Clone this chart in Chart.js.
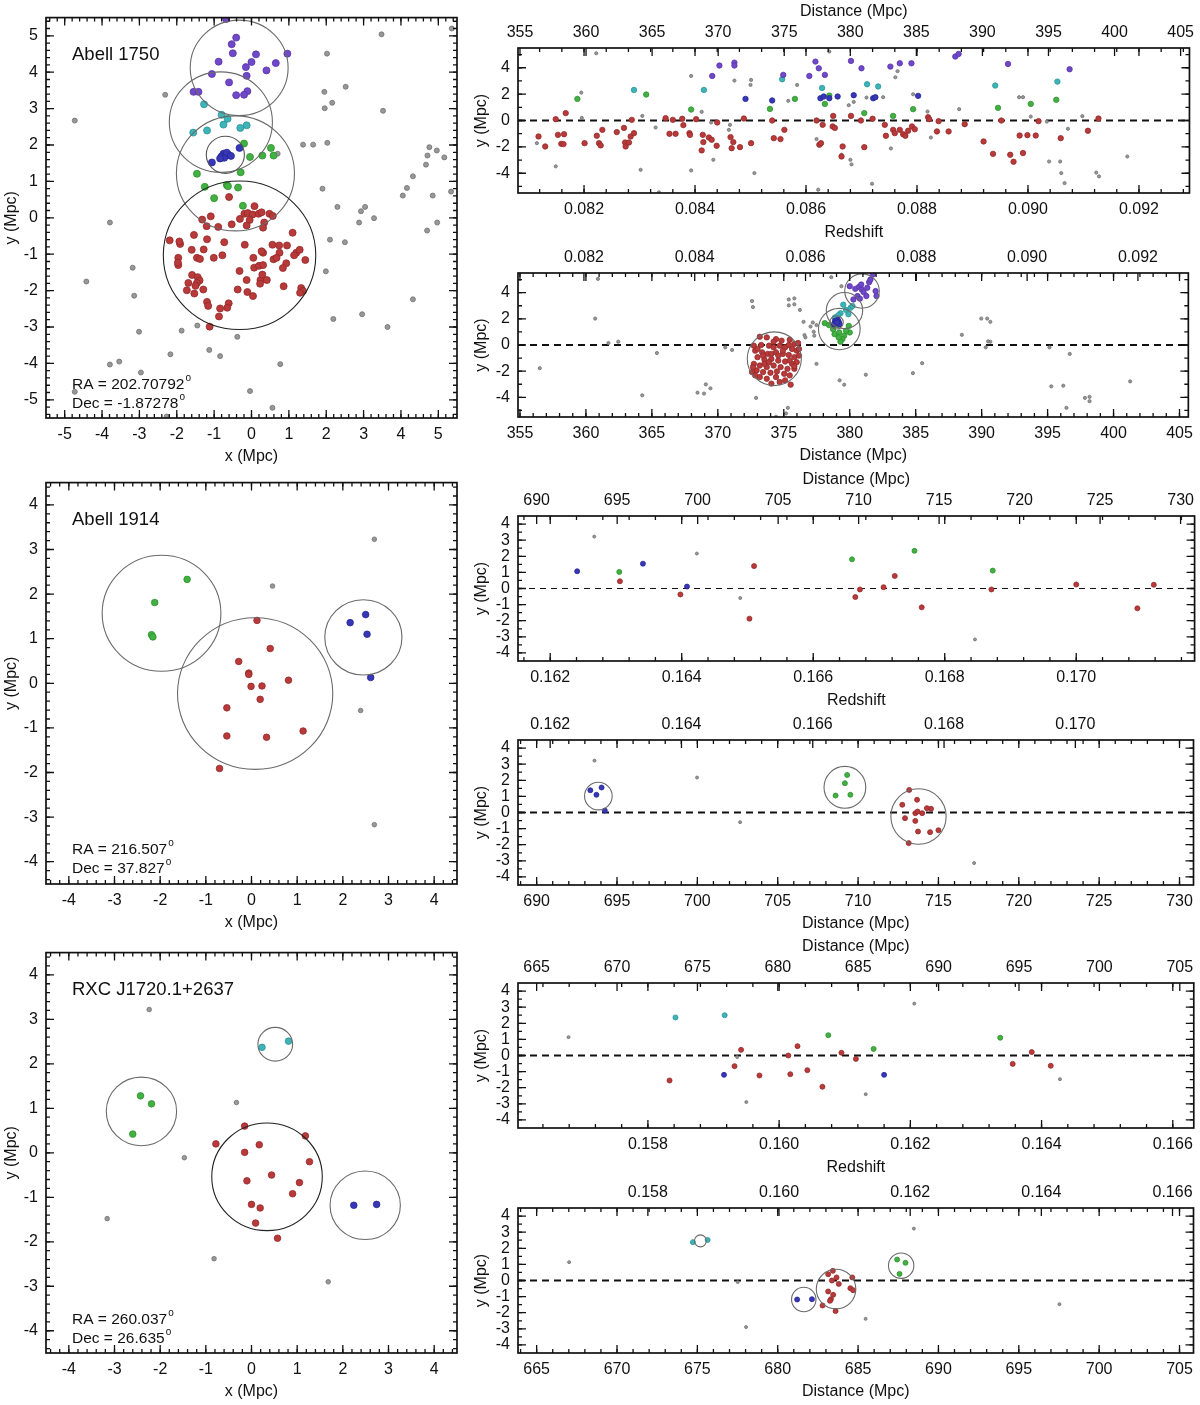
<!DOCTYPE html>
<html>
<head>
<meta charset="utf-8">
<script src="https://cdn.jsdelivr.net/npm/chart.js@4.4.0/dist/chart.umd.min.js"></script>
<style>
  html, body { margin: 0; padding: 0; background: #fff; }
  #page { position: relative; width: 1200px; height: 1405px; overflow: hidden; }
  canvas { position: absolute; }
</style>
</head>
<body>
<div id="page"></div>
<script>
// --- DATA: Abell 1750 ---
// sky plane (x, y) in Mpc
const a1750Purple = [[-0.68,5.46],[-0.41,4.95],[-0.53,4.77],[-0.50,4.52],[-0.88,4.29],[0.12,4.49],[0.96,4.51],[0.00,4.28],[-0.15,4.14],[0.65,4.25],[0.40,4.05],[-1.06,3.95],[-0.13,3.90],[-0.60,3.72],[-0.11,3.48],[-0.20,3.38],[-0.41,3.37],[-1.55,3.46],[-1.42,3.46]];
const a1750Cyan = [[-1.27,3.12],[-0.80,2.83],[-0.64,2.72],[-0.75,2.56],[-0.13,2.54],[-0.30,2.47],[-1.19,2.40],[-1.56,2.34]];
const a1750Blue = [[-0.75,1.76],[-0.69,1.71],[-0.80,1.69],[-0.63,1.74],[-0.73,1.65],[-0.66,1.79],[-0.84,1.63],[-0.55,1.70],[-0.32,1.92],[-1.06,1.52]];
const a1750Green = [[-0.20,2.04],[0.52,1.92],[0.29,1.71],[0.59,1.71],[-0.04,1.67],[-0.29,1.25],[-1.46,1.21],[-1.25,0.85],[-0.66,0.90],[-0.63,0.87],[-0.36,0.83],[-1.00,0.54],[-0.23,0.33]];
const a1750Red = [[-0.60,0.57],[0.08,0.32],[-1.09,0.04],[-1.32,-0.05],[-0.53,-0.18],[-0.89,-0.25],[-0.31,-0.03],[-0.19,0.11],[-0.10,0.13],[0.03,0.09],[-0.05,-0.06],[-0.13,-0.21],[0.19,0.11],[0.27,0.15],[0.48,0.11],[0.57,0.05],[-1.20,-0.23],[0.34,-0.13],[0.31,-0.27],[1.10,-0.41],[-1.54,-0.47],[-1.91,-0.72],[-2.19,-0.62],[-1.93,-0.65],[-1.60,-0.88],[-1.19,-0.59],[-0.73,-0.67],[-0.18,-0.74],[-1.28,-0.87],[0.56,-0.74],[0.74,-0.76],[0.95,-0.76],[0.75,-0.96],[1.20,-0.96],[1.29,-0.88],[0.31,-0.96],[0.27,-0.92],[-1.46,-1.10],[-1.38,-1.13],[-1.96,-1.10],[-1.96,-1.30],[-1.97,-1.23],[-0.78,-1.03],[-1.01,-1.10],[0.05,-1.10],[0.59,-1.14],[0.67,-1.10],[0.93,-1.25],[1.44,-1.16],[1.14,-1.03],[0.07,-1.37],[0.20,-1.32],[0.31,-1.30],[-0.32,-1.46],[0.84,-1.38],[-1.59,-1.57],[-1.44,-1.63],[-1.39,-1.72],[-1.46,-1.79],[-1.69,-1.79],[-1.50,-1.87],[-0.13,-1.71],[0.24,-1.71],[0.41,-1.71],[0.29,-1.56],[0.23,-1.81],[0.86,-1.88],[-1.29,-1.97],[-1.73,-1.99],[-1.53,-2.08],[-0.37,-1.97],[-0.11,-2.04],[0.04,-2.15],[1.33,-1.93],[1.38,-2.01],[1.30,-2.06],[-1.19,-2.31],[-1.16,-2.42],[-0.61,-2.35],[-0.84,-2.49],[-0.65,-2.47],[-0.87,-2.71],[-1.12,-2.99]];
const a1750Gray = [[2.02,4.51],[3.48,5.04],[5.36,5.20],[-2.31,3.38],[-4.73,2.67],[1.95,3.46],[2.16,3.16],[2.52,3.60],[1.96,3.01],[3.52,2.94],[1.38,2.01],[1.65,2.01],[2.03,2.06],[0.70,1.76],[4.76,1.94],[4.71,1.71],[4.96,1.85],[5.16,1.66],[4.67,1.46],[4.32,1.14],[4.16,0.82],[4.05,0.61],[4.85,0.61],[5.34,0.72],[1.90,0.80],[2.30,0.30],[3.04,0.30],[2.93,0.18],[2.88,-0.13],[3.28,-0.01],[4.97,-0.13],[4.70,-0.35],[2.10,-0.60],[2.50,-0.67],[-3.79,-0.13],[1.99,-1.47],[-3.18,-1.37],[-4.42,-1.75],[-3.14,-2.14],[4.32,-2.24],[2.19,-2.78],[2.96,-2.65],[3.64,-3.00],[-1.45,-2.96],[-1.87,-3.10],[-3.01,-3.13],[-0.38,-3.27],[-2.17,-3.75],[-1.13,-3.63],[-0.84,-3.80],[-3.79,-4.03],[-3.54,-3.95],[0.77,-4.02],[-2.96,-4.25],[-4.73,-4.78],[-0.04,-4.76],[0.56,-5.22],[-2.27,-5.46]];
// substructure circles [centre x, centre y, radius] in Mpc
const a1750CirclesXY = [[-0.33,4.12,1.31],[-0.82,2.63,1.38],[-0.43,1.22,1.58],[-0.70,1.73,0.51],[-0.32,-1.03,2.04]];

// redshift vs y
const a1750PurpleZ = [[0.08431,3.38],[0.08444,4.17],[0.08471,4.39],[0.08471,4.17],[0.08559,3.46],[0.08606,3.38],[0.08617,4.47],[0.08623,3.96],[0.08634,3.46],[0.08681,4.52],[0.08700,3.96],[0.08752,4.09],[0.08769,4.34],[0.08790,4.34],[0.08869,4.85],[0.08875,5.05],[0.08964,4.29],[0.09075,3.89]];
const a1750CyanZ = [[0.08290,2.32],[0.08416,2.32],[0.08557,3.13],[0.08629,2.47],[0.08710,2.75],[0.08730,2.58],[0.08941,2.65],[0.09053,2.95]];
const a1750BlueZ = [[0.08491,1.64],[0.08539,1.52],[0.08626,1.69],[0.08632,1.82],[0.08642,1.69],[0.08657,1.82],[0.08686,1.92],[0.08721,1.69],[0.08725,1.77],[0.08802,1.87]];
const a1750GreenZ = [[0.08188,1.64],[0.08312,1.97],[0.08393,0.83],[0.08535,0.88],[0.08580,1.64],[0.08634,1.26],[0.08642,1.89],[0.08705,0.56],[0.08757,0.35],[0.08793,0.86],[0.08946,0.96],[0.09005,1.26],[0.09051,1.57]];
const a1750RedZ = [[0.08118,-1.21],[0.08130,-1.97],[0.08149,0.10],[0.08153,-1.09],[0.08159,-1.77],[0.08163,-1.79],[0.08164,-1.04],[0.08167,0.56],[0.08201,-1.72],[0.08223,-1.16],[0.08227,-1.72],[0.08230,-1.89],[0.08233,-0.71],[0.08259,-0.88],[0.08272,-0.56],[0.08274,-1.67],[0.08275,-1.97],[0.08281,-1.67],[0.08284,-1.21],[0.08286,0.05],[0.08290,-0.96],[0.08347,0.18],[0.08354,-1.01],[0.08360,0.05],[0.08365,-1.01],[0.08377,0.13],[0.08379,-0.35],[0.08390,-0.96],[0.08391,-1.09],[0.08402,0.10],[0.08412,-2.27],[0.08414,-1.09],[0.08415,-1.64],[0.08425,-1.29],[0.08430,-1.46],[0.08439,-1.92],[0.08440,-0.15],[0.08464,-1.26],[0.08466,-2.10],[0.08469,-1.64],[0.08481,-2.02],[0.08488,0.15],[0.08501,-1.72],[0.08539,0.00],[0.08542,-1.34],[0.08554,-1.41],[0.08561,-0.71],[0.08619,0.00],[0.08624,-1.84],[0.08627,-1.72],[0.08630,-0.33],[0.08648,-0.45],[0.08649,0.35],[0.08652,-0.56],[0.08664,-2.73],[0.08666,-1.97],[0.08681,0.35],[0.08699,0.00],[0.08705,-2.02],[0.08720,0.13],[0.08742,-0.33],[0.08744,-1.16],[0.08757,-0.71],[0.08760,-0.96],[0.08769,-0.71],[0.08775,-1.04],[0.08779,-1.16],[0.08784,-0.78],[0.08791,-0.45],[0.08796,-0.66],[0.08820,0.25],[0.08822,0.10],[0.08836,-0.83],[0.08839,-0.05],[0.08857,-0.83],[0.08886,-0.28],[0.08920,-1.59],[0.08937,-2.53],[0.08952,0.00],[0.08968,-2.60],[0.08974,-3.13],[0.08985,-1.14],[0.08991,-2.47],[0.08999,-1.11],[0.09014,-1.14],[0.09019,-0.05],[0.09059,-1.34],[0.09108,-0.78],[0.09127,0.15]];
const a1750GrayZ = [[0.08115,-1.72],[0.08149,-3.48],[0.08195,2.12],[0.08196,0.20],[0.08222,5.10],[0.08305,0.35],[0.08302,-3.74],[0.08329,-0.53],[0.08335,-5.45],[0.08393,3.38],[0.08393,-3.79],[0.08412,0.66],[0.08429,-0.15],[0.08433,-2.98],[0.08461,-0.71],[0.08463,-0.33],[0.08471,3.03],[0.08500,2.70],[0.08501,3.08],[0.08507,-3.99],[0.08568,1.49],[0.08584,2.70],[0.08619,-1.41],[0.08622,-5.25],[0.08642,5.23],[0.08677,1.16],[0.08664,-2.60],[0.08680,-2.98],[0.08682,-3.33],[0.08686,1.41],[0.08709,1.74],[0.08719,-4.80],[0.08739,1.77],[0.08753,-2.12],[0.08761,3.28],[0.08765,3.74],[0.08793,1.99],[0.08819,0.68],[0.08825,-1.29],[0.08876,0.86],[0.08984,1.77],[0.08991,1.77],[0.09005,0.30],[0.09034,-0.08],[0.09038,-3.11],[0.09058,-3.11],[0.09060,-3.99],[0.09066,-4.75],[0.09072,-0.63],[0.09098,0.33],[0.09123,-3.95],[0.09128,-4.24],[0.09179,-2.73]];

// distance vs y
const a1750PurpleD = [[380.00,4.49],[380.42,4.29],[380.70,4.44],[380.91,4.24],[381.05,4.04],[381.26,3.74],[381.47,4.80],[381.57,5.00],[381.75,5.38],[382.03,3.74],[381.96,4.12],[380.59,3.74],[380.77,3.54],[380.28,3.48],[380.87,4.62],[381.33,4.37]];
const a1750CyanD = [[378.88,2.10],[379.30,2.42],[379.51,3.08],[379.72,2.68],[380.07,2.85],[380.21,2.98],[379.90,2.35],[379.13,2.27]];
const a1750BlueD = [[378.88,1.84],[379.02,1.67],[379.16,1.77],[379.09,1.92],[378.81,1.59],[379.23,1.59],[378.99,1.82],[379.05,1.72]];
const a1750GreenD = [[378.11,1.67],[378.85,0.83],[379.20,0.96],[379.58,0.71],[379.93,1.46],[380.00,0.96],[379.44,0.45],[379.30,0.25],[378.74,1.21],[378.43,1.52],[379.72,1.09],[378.95,1.52],[379.16,0.58]];
const a1750RedD = [[373.18,0.63],[373.71,0.58],[374.41,0.45],[374.83,0.33],[375.45,0.40],[375.80,0.08],[376.08,0.15],[372.73,-0.05],[373.29,0.00],[373.88,-0.05],[374.23,-0.18],[374.69,-0.05],[375.10,-0.18],[375.63,-0.30],[375.98,-0.43],[372.83,-0.43],[373.36,-0.56],[373.78,-0.68],[374.41,-0.56],[374.93,-0.68],[375.38,-0.76],[375.80,-0.93],[376.15,-0.81],[373.01,-0.93],[373.53,-1.11],[374.06,-1.06],[374.58,-1.19],[375.10,-1.26],[375.63,-1.44],[372.73,-1.44],[373.18,-1.57],[373.71,-1.69],[374.23,-1.57],[374.76,-1.69],[375.28,-1.82],[375.80,-1.82],[372.94,-1.94],[373.43,-2.07],[373.99,-2.12],[374.48,-2.02],[375.03,-2.20],[375.45,-2.32],[372.59,-2.07],[373.18,-2.45],[373.71,-2.58],[374.41,-2.45],[375.10,-2.70],[375.52,-3.03],[374.69,-2.83],[374.06,-2.95],[373.53,-1.44],[373.01,-0.30],[375.45,-1.19],[375.98,-1.31],[374.06,-0.68],[374.58,-0.81],[373.88,-1.31],[373.43,-0.81],[372.66,-1.69],[374.93,-0.43],[375.38,0.00],[374.23,0.25],[375.80,-1.62],[372.83,-2.32],[376.15,-0.30]];
const a1750GrayD = [[356.50,-1.77],[360.70,2.02],[360.91,5.05],[361.71,0.15],[362.45,0.25],[365.38,-0.61],[364.27,-3.84],[368.46,-3.64],[368.95,-3.71],[369.09,-3.01],[369.44,-3.31],[370.56,-0.18],[371.08,-0.38],[372.59,3.36],[372.66,2.90],[372.90,-4.04],[374.41,-5.48],[375.17,-5.23],[375.31,-4.80],[375.38,3.48],[375.38,3.03],[375.80,3.56],[375.80,3.11],[376.22,2.68],[376.50,1.77],[376.57,0.76],[376.64,0.58],[377.03,1.41],[377.20,1.72],[377.27,1.01],[377.31,0.71],[377.48,1.52],[377.48,-1.44],[378.60,5.18],[379.23,-2.70],[379.37,4.49],[379.58,-3.03],[381.22,-2.27],[384.79,-2.15],[385.49,-1.39],[388.50,0.78],[389.97,2.02],[390.42,2.02],[390.66,1.77],[390.31,-0.18],[390.49,0.28],[390.66,0.25],[395.14,-0.18],[395.28,-3.16],[396.19,-3.11],[396.43,-4.80],[396.68,-0.68],[397.83,-4.04],[398.18,-3.96],[398.18,-4.29],[401.26,-2.78]];
const a1750CirclesD = [[380.93,4.12,1.31],[379.60,2.63,1.38],[379.21,1.22,1.58],[379.00,1.73,0.51],[374.28,-1.05,2.05]];

// --- DATA: Abell 1914 ---
const a1914Green = [[-1.41,2.33],[-2.12,1.81],[-2.19,1.09],[-2.16,1.04]];
const a1914Red = [[0.12,1.41],[0.41,0.78],[-0.28,0.49],[-0.06,0.23],[-0.06,0.20],[-0.01,-0.07],[0.23,-0.06],[0.81,0.07],[0.19,-0.36],[-0.54,-0.55],[-0.54,-1.18],[0.33,-1.21],[1.13,-1.07],[-0.70,-1.91]];
const a1914Blue = [[2.16,1.36],[2.50,1.54],[2.53,1.10],[2.61,0.13]];
const a1914Gray = [[0.46,2.18],[2.69,3.23],[2.39,-0.61],[2.69,-3.17]];
const a1914CirclesXY = [[-1.97,1.57,1.30],[0.08,-0.23,1.70],[2.45,1.03,0.845]];

const a1914BlueZ = [[0.16241,1.07],[0.16341,1.54],[0.16408,0.12]];
const a1914GreenZ = [[0.16305,1.03],[0.16659,1.81],[0.16754,2.34],[0.16873,1.11]];
const a1914RedZ = [[0.16306,0.45],[0.16398,-0.37],[0.16510,1.39],[0.16503,-1.87],[0.16664,-0.53],[0.16671,-0.06],[0.16707,0.08],[0.16724,0.78],[0.16765,-1.17],[0.16871,-0.06],[0.17000,0.25],[0.17093,-1.23],[0.17118,0.23]];
const a1914GrayZ = [[0.16267,3.22],[0.16423,2.17],[0.16489,-0.59],[0.16846,-3.16]];

const a1914BlueD = [[693.34,1.38],[693.72,1.10],[694.04,1.55],[694.24,0.12]];
const a1914GreenD = [[709.32,2.33],[709.18,1.82],[708.60,1.05],[709.52,1.10]];
const a1914RedD = [[713.18,1.40],[712.75,0.48],[713.67,0.79],[713.56,-0.04],[713.70,0.06],[713.99,-0.04],[714.28,0.27],[714.54,0.23],[712.92,-0.35],[713.56,-0.52],[713.73,-1.18],[714.48,-1.22],[715.00,-1.10],[713.15,-1.90]];
const a1914GrayD = [[693.60,3.22],[699.98,2.17],[702.66,-0.60],[717.22,-3.14]];
const a1914CirclesD = [[693.84,1.02,0.86],[709.18,1.56,1.30],[713.76,-0.25,1.72]];

// --- DATA: RXC J1720.1+2637 ---
const rxcCyan = [[0.23,2.37],[0.81,2.51]];
const rxcGreen = [[-2.43,1.28],[-2.19,1.10],[-2.60,0.42]];
const rxcRed = [[-0.15,0.60],[1.18,0.38],[-0.78,0.20],[0.17,0.18],[-0.15,0.01],[1.27,-0.20],[0.44,-0.50],[-0.10,-0.63],[1.05,-0.67],[0.90,-0.92],[0.00,-1.16],[0.19,-1.24],[0.09,-1.58],[0.57,-1.92]];
const rxcBlue = [[2.24,-1.18],[2.74,-1.16]];
const rxcGray = [[-2.24,3.22],[-0.33,1.13],[-1.47,-0.11],[-3.16,-1.48],[-0.82,-2.38],[1.68,-2.90]];
const rxcCirclesXY = [[0.52,2.44,0.38],[-2.41,0.93,0.77],[0.34,-0.54,1.21],[2.49,-1.18,0.77]];

const rxcCyanZ = [[0.15842,2.36],[0.15917,2.50]];
const rxcGreenZ = [[0.16075,1.26],[0.16144,0.41],[0.16337,1.10]];
const rxcBlueZ = [[0.15916,-1.20],[0.16160,-1.20]];
const rxcRedZ = [[0.15833,-1.55],[0.15942,0.35],[0.15932,-0.66],[0.15970,-1.24],[0.16014,0.00],[0.16028,0.58],[0.16017,-1.16],[0.16043,-0.91],[0.16066,-1.94],[0.16095,0.17],[0.16117,-0.21],[0.16356,-0.52],[0.16385,0.21],[0.16414,-0.64]];
const rxcGrayZ = [[0.15679,1.14],[0.15936,-0.10],[0.15950,-2.89],[0.16132,-2.40],[0.16206,3.22],[0.16428,-1.47]];

const rxcCyanD = [[674.72,2.38],[675.64,2.52]];
const rxcGreenD = [[687.43,1.30],[687.95,1.10],[687.58,0.41]];
const rxcBlueD = [[681.21,-1.18],[682.13,-1.16]];
const rxcRedD = [[683.43,0.60],[683.14,0.39],[683.37,0.00],[683.66,0.19],[683.80,-0.21],[684.64,0.19],[684.52,-0.48],[684.69,-0.60],[683.14,-0.68],[683.45,-0.89],[683.31,-1.16],[683.25,-1.26],[682.79,-1.55],[683.60,-1.90]];
const rxcGrayD = [[667.02,1.14],[677.51,-0.10],[678.03,-2.89],[685.47,-2.38],[688.47,3.22],[697.53,-1.47]];
const rxcCirclesD = [[675.19,2.46,0.37],[687.68,0.92,0.79],[683.63,-0.53,1.23],[681.62,-1.18,0.76]];

// --- TICK LABELS ---
const skyTicks1 = [-5,-4,-3,-2,-1,0,1,2,3,4,5];
const skyTicks2 = [-4,-3,-2,-1,0,1,2,3,4];
const yTicksR1 = [-4,-2,0,2,4];
const yTicksR2 = [-4,-3,-2,-1,0,1,2,3,4];
const distTicks1 = [355,360,365,370,375,380,385,390,395,400,405];
const zTicks1 = [0.082,0.084,0.086,0.088,0.090,0.092];
const distTicks2 = [690,695,700,705,710,715,720,725,730];
const zTicks2 = [0.162,0.164,0.166,0.168,0.170];
const distTicks3 = [665,670,675,680,685,690,695,700,705];
const zTicks3 = [0.158,0.160,0.162,0.164,0.166];

// --- STYLE ---
const FONT = '"Liberation Sans", Arial, Helvetica, sans-serif';
const TXT = 16;
const COL = {
  red: ['rgb(184,58,58)', 'rgb(150,40,40)'],
  purple: ['rgb(112,72,200)', 'rgb(85,52,170)'],
  cyan: ['rgb(62,180,185)', 'rgb(40,148,152)'],
  green: ['rgb(66,176,66)', 'rgb(44,144,44)'],
  blue: ['rgb(56,56,182)', 'rgb(36,36,150)'],
  gray: ['rgb(152,152,152)', 'rgb(112,112,112)']
};
const page = document.getElementById('page');

const pts = arr => arr.map(p => ({ x: p[0], y: p[1] }));
const fmtZ = v => v.toFixed(3);

function pointSet(arr, col, r) {
  return {
    data: pts(arr), backgroundColor: COL[col][0], borderColor: COL[col][1],
    borderWidth: 0.8, pointRadius: r, pointHoverRadius: r, showLine: false
  };
}
function zeroLine(min, max, w, dash) {
  return {
    data: [{ x: min, y: 0 }, { x: max, y: 0 }], showLine: true, pointRadius: 0,
    borderColor: '#111', borderWidth: w, borderDash: dash
  };
}
function minorVals(min, max, step) {
  const out = [];
  for (let k = Math.ceil(min / step - 1e-6); k * step <= max + 1e-9; k++) out.push(k * step);
  return out;
}

function axisOpts(pos, a, size, pad) {
  return {
    type: 'linear', position: pos, min: a.min, max: a.max,
    grid: { display: false, drawTicks: false }, border: { display: false },
    ticks: {
      autoSkip: false, maxRotation: 0, minRotation: 0, padding: pad, color: '#111',
      font: { family: FONT, size: TXT },
      callback: v => a.fmt ? a.fmt(v) : String(v)
    },
    afterBuildTicks: s => { s.ticks = a.ticks.map(v => ({ value: v })); },
    afterFit: s => { if (pos === 'left') s.width = size; else s.height = size; }
  };
}

// frame, inward ticks, circles and text labels
function framePlugin(p) {
  return {
    id: 'frame',
    afterDatasetsDraw(chart) {
      const ctx = chart.ctx, a = chart.chartArea, sx = chart.scales.x, sy = chart.scales.y;
      ctx.save();
      // circles / ellipses in data units
      ctx.beginPath(); ctx.rect(a.left, a.top, a.right - a.left, a.bottom - a.top); ctx.clip();
      (p.circles || []).forEach((c, i) => {
        const cx = sx.getPixelForValue(c[0]), cy = sy.getPixelForValue(c[1]);
        const rx = Math.abs(sx.getPixelForValue(c[0] + c[2]) - cx);
        const ry = Math.abs(sy.getPixelForValue(c[1] + c[2]) - cy);
        ctx.beginPath(); ctx.ellipse(cx, cy, rx, ry, 0, 0, Math.PI * 2);
        ctx.strokeStyle = (p.circleCols && p.circleCols[i]) || '#6a6a6a';
        ctx.lineWidth = 1.1; ctx.stroke();
      });
      ctx.restore();

      ctx.save();
      ctx.strokeStyle = '#111';
      ctx.lineWidth = 1.7;
      ctx.strokeRect(a.left, a.top, a.right - a.left, a.bottom - a.top);
      ctx.lineWidth = 1.3;
      const tickH = (scale, vals, len) => vals.forEach(v => {
        const px = scale.getPixelForValue(v);
        if (px < a.left + 1 || px > a.right - 1) return;
        ctx.beginPath(); ctx.moveTo(px, a.bottom); ctx.lineTo(px, a.bottom - len);
        ctx.moveTo(px, a.top); ctx.lineTo(px, a.top + len); ctx.stroke();
      });
      const tickTop = (scale, vals, len) => vals.forEach(v => {
        const px = scale.getPixelForValue(v);
        if (px < a.left + 1 || px > a.right - 1) return;
        ctx.beginPath(); ctx.moveTo(px, a.top); ctx.lineTo(px, a.top + len); ctx.stroke();
      });
      const tickV = (vals, len) => vals.forEach(v => {
        const py = sy.getPixelForValue(v);
        if (py < a.top + 1 || py > a.bottom - 1) return;
        ctx.beginPath(); ctx.moveTo(a.left, py); ctx.lineTo(a.left + len, py);
        ctx.moveTo(a.right, py); ctx.lineTo(a.right - len, py); ctx.stroke();
      });
      tickH(sx, p.x.ticks, 8);
      tickH(sx, minorVals(p.x.min, p.x.max, p.x.minor), 4);
      if (p.x2) tickTop(chart.scales.x2, p.x2.ticks, 8);
      tickV(p.y.ticks, 8);
      tickV(minorVals(p.y.min, p.y.max, p.y.minor), 4);

      // texts
      ctx.fillStyle = '#111';
      ctx.textBaseline = 'middle';
      const midX = (a.left + a.right) / 2, midY = (a.top + a.bottom) / 2;
      const put = (t, x, y, size, align, sup) => {
        ctx.font = size + 'px ' + FONT; ctx.textAlign = align;
        ctx.fillText(t, x, y);
        if (sup) {
          const w = ctx.measureText(t).width;
          ctx.font = '10px ' + FONT; ctx.textAlign = 'left';
          ctx.fillText(sup, x + w + 1, y - 6);
        }
      };
      ctx.save();
      ctx.translate(12, midY); ctx.rotate(-Math.PI / 2);
      put('y (Mpc)', 0, 0, TXT, 'center');
      ctx.restore();
      if (p.kind === 'sky') {
        put(p.name, a.left + 26, a.top + 37, 18.5, 'left');
        put(p.ra, a.left + 26, a.top + 367, 15.5, 'left', 'o');
        put(p.dec, a.left + 26, a.top + 386, 15.5, 'left', 'o');
        put('x (Mpc)', midX, a.bottom + 39, TXT, 'center');
      } else if (p.kind === 'z') {
        put('Distance (Mpc)', midX, a.top - 36, TXT, 'center');
        put('Redshift', midX, a.bottom + 40, TXT, 'center');
      } else {
        put('Distance (Mpc)', midX, a.bottom + 39, TXT, 'center');
      }
      ctx.restore();
    }
  };
}

function makeChart(p) {
  const cv = document.createElement('canvas');
  cv.width = p.w; cv.height = p.h;
  cv.style.left = p.left + 'px'; cv.style.top = p.top + 'px';
  page.appendChild(cv);
  const scales = {
    x: axisOpts('bottom', p.x, p.bottomH, 7),
    y: axisOpts('left', p.y, p.axisW, 8)
  };
  if (p.x2) scales.x2 = axisOpts('top', p.x2, p.topH, 6);
  return new Chart(cv, {
    type: 'scatter',
    data: { datasets: p.datasets },
    options: {
      responsive: false, animation: false, events: [],
      layout: { padding: { top: p.padTop || 0, right: p.padRight, left: 0, bottom: 0 } },
      plugins: { legend: { display: false }, tooltip: { enabled: false } },
      scales
    },
    plugins: [framePlugin(p)]
  });
}

// --- PANELS ---
const R1 = { zMin: 0.08081, zMax: 0.09291, dMin: 354.85, dMax: 405.67 };
const R2 = { zMin: 0.16151, zMax: 0.17180, dMin: 688.84, dMax: 730.87 };
const R3 = { zMin: 0.15602, zMax: 0.16632, dMin: 663.84, dMax: 705.87 };

// Abell 1750 sky
makeChart({
  kind: 'sky', left: 0, top: 0, w: 470, h: 470, padTop: 8, padRight: 13, axisW: 46, bottomH: 52,
  name: 'Abell 1750', ra: 'RA = 202.70792', dec: 'Dec = -1.87278',
  x: { min: -5.5, max: 5.5, ticks: skyTicks1, minor: 0.2 },
  y: { min: -5.5, max: 5.5, ticks: skyTicks1, minor: 0.2 },
  circles: a1750CirclesXY, circleCols: ['#6a6a6a', '#6a6a6a', '#6a6a6a', '#555', '#222'],
  datasets: [pointSet(a1750Blue, 'blue', 3.5), pointSet(a1750Purple, 'purple', 3.5), pointSet(a1750Cyan, 'cyan', 3.5),
    pointSet(a1750Green, 'green', 3.5), pointSet(a1750Red, 'red', 3.5), pointSet(a1750Gray, 'gray', 2.5)]
});
makeChart({
  kind: 'z', left: 470, top: 0, w: 730, h: 245, topH: 48, padRight: 3, axisW: 48, bottomH: 52,
  x: { min: R1.zMin, max: R1.zMax, ticks: zTicks1, minor: 0.0004, fmt: fmtZ },
  x2: { min: R1.dMin, max: R1.dMax, ticks: distTicks1 },
  y: { min: -5.5, max: 5.5, ticks: yTicksR1, minor: 1 },
  datasets: [pointSet(a1750PurpleZ, 'purple', 2.7), pointSet(a1750CyanZ, 'cyan', 2.7), pointSet(a1750BlueZ, 'blue', 2.7),
    pointSet(a1750GreenZ, 'green', 2.7), pointSet(a1750RedZ, 'red', 2.7), pointSet(a1750GrayZ, 'gray', 1.6),
    zeroLine(R1.zMin, R1.zMax, 2, [7, 5])]
});
makeChart({
  kind: 'd', left: 470, top: 235, w: 730, h: 235, topH: 38, padRight: 3, axisW: 48, bottomH: 53,
  x: { min: R1.dMin, max: R1.dMax, ticks: distTicks1, minor: 1 },
  x2: { min: R1.zMin, max: R1.zMax, ticks: zTicks1, fmt: fmtZ },
  y: { min: -5.5, max: 5.5, ticks: yTicksR1, minor: 1 },
  circles: a1750CirclesD,
  datasets: [pointSet(a1750BlueD, 'blue', 2.7), pointSet(a1750PurpleD, 'purple', 2.7), pointSet(a1750CyanD, 'cyan', 2.7),
    pointSet(a1750GreenD, 'green', 2.7), pointSet(a1750RedD, 'red', 2.7), pointSet(a1750GrayD, 'gray', 1.6),
    zeroLine(R1.dMin, R1.dMax, 2, [7, 5])]
});

// Abell 1914
makeChart({
  kind: 'sky', left: 0, top: 465, w: 470, h: 470, padTop: 10, padRight: 13, axisW: 46, bottomH: 51,
  name: 'Abell 1914', ra: 'RA = 216.507', dec: 'Dec = 37.827',
  x: { min: -4.5, max: 4.5, ticks: skyTicks2, minor: 0.2 },
  y: { min: -4.5, max: 4.5, ticks: skyTicks2, minor: 0.2 },
  circles: a1914CirclesXY,
  datasets: [pointSet(a1914Green, 'green', 3.3), pointSet(a1914Red, 'red', 3.3), pointSet(a1914Blue, 'blue', 3.3),
    pointSet(a1914Gray, 'gray', 2.3)]
});
makeChart({
  kind: 'z', left: 470, top: 465, w: 730, h: 245, topH: 51, padRight: 3, axisW: 48, bottomH: 49,
  x: { min: R2.zMin, max: R2.zMax, ticks: zTicks2, minor: 0.0004, fmt: fmtZ },
  x2: { min: R2.dMin, max: R2.dMax, ticks: distTicks2 },
  y: { min: -4.5, max: 4.5, ticks: yTicksR2, minor: 0.5 },
  datasets: [pointSet(a1914BlueZ, 'blue', 2.5), pointSet(a1914GreenZ, 'green', 2.5), pointSet(a1914RedZ, 'red', 2.5),
    pointSet(a1914GrayZ, 'gray', 1.5), zeroLine(R2.zMin, R2.zMax, 1, [6, 5])]
});
makeChart({
  kind: 'd', left: 470, top: 705, w: 730, h: 230, topH: 35, padRight: 3, axisW: 48, bottomH: 50,
  x: { min: R2.dMin, max: R2.dMax, ticks: distTicks2, minor: 1 },
  x2: { min: R2.zMin, max: R2.zMax, ticks: zTicks2, fmt: fmtZ },
  y: { min: -4.5, max: 4.5, ticks: yTicksR2, minor: 0.5 },
  circles: a1914CirclesD,
  datasets: [pointSet(a1914BlueD, 'blue', 2.5), pointSet(a1914GreenD, 'green', 2.5), pointSet(a1914RedD, 'red', 2.5),
    pointSet(a1914GrayD, 'gray', 1.5), zeroLine(R2.dMin, R2.dMax, 2, [7, 5])]
});

// RXC J1720.1+2637
makeChart({
  kind: 'sky', left: 0, top: 935, w: 470, h: 470, padTop: 8, padRight: 13, axisW: 46, bottomH: 52,
  name: 'RXC J1720.1+2637', ra: 'RA = 260.037', dec: 'Dec = 26.635',
  x: { min: -4.5, max: 4.5, ticks: skyTicks2, minor: 0.2 },
  y: { min: -4.5, max: 4.5, ticks: skyTicks2, minor: 0.2 },
  circles: rxcCirclesXY, circleCols: ['#6a6a6a', '#6a6a6a', '#222', '#6a6a6a'],
  datasets: [pointSet(rxcCyan, 'cyan', 3.3), pointSet(rxcGreen, 'green', 3.3), pointSet(rxcRed, 'red', 3.3),
    pointSet(rxcBlue, 'blue', 3.3), pointSet(rxcGray, 'gray', 2.3)]
});
makeChart({
  kind: 'z', left: 470, top: 935, w: 730, h: 245, topH: 48, padRight: 3, axisW: 48, bottomH: 52,
  x: { min: R3.zMin, max: R3.zMax, ticks: zTicks3, minor: 0.0004, fmt: fmtZ },
  x2: { min: R3.dMin, max: R3.dMax, ticks: distTicks3 },
  y: { min: -4.5, max: 4.5, ticks: yTicksR2, minor: 0.5 },
  datasets: [pointSet(rxcCyanZ, 'cyan', 2.5), pointSet(rxcGreenZ, 'green', 2.5), pointSet(rxcBlueZ, 'blue', 2.5),
    pointSet(rxcRedZ, 'red', 2.5), pointSet(rxcGrayZ, 'gray', 1.5), zeroLine(R3.zMin, R3.zMax, 2, [7, 5])]
});
makeChart({
  kind: 'd', left: 470, top: 1175, w: 730, h: 230, topH: 33, padRight: 3, axisW: 48, bottomH: 52,
  x: { min: R3.dMin, max: R3.dMax, ticks: distTicks3, minor: 1 },
  x2: { min: R3.zMin, max: R3.zMax, ticks: zTicks3, fmt: fmtZ },
  y: { min: -4.5, max: 4.5, ticks: yTicksR2, minor: 0.5 },
  circles: rxcCirclesD,
  datasets: [pointSet(rxcCyanD, 'cyan', 2.5), pointSet(rxcGreenD, 'green', 2.5), pointSet(rxcBlueD, 'blue', 2.5),
    pointSet(rxcRedD, 'red', 2.5), pointSet(rxcGrayD, 'gray', 1.5), zeroLine(R3.dMin, R3.dMax, 2, [7, 5])]
});
</script>
</body>
</html>
